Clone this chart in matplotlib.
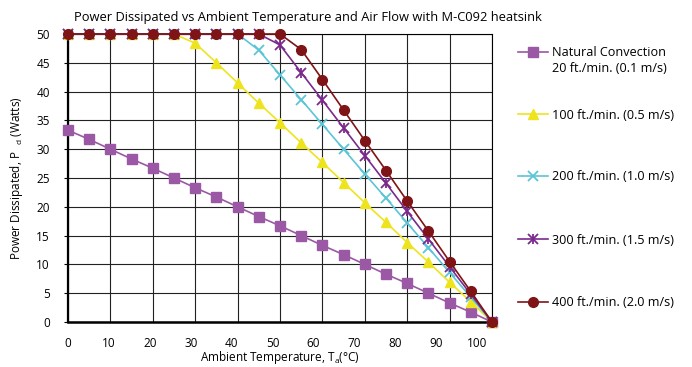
import matplotlib
matplotlib.use("Agg")
import matplotlib.pyplot as plt
from matplotlib.lines import Line2D

plt.rcParams['font.family'] = ['Open Sans', 'DejaVu Sans']
plt.rcParams['mathtext.fontset'] = 'custom'
plt.rcParams['mathtext.rm'] = 'Open Sans'
plt.rcParams['mathtext.it'] = 'Open Sans:italic'

# Ambient temperature (°C)
temps = [0, 5, 10, 15, 20, 25, 30, 35, 40, 45, 50,
         55, 60, 65, 70, 75, 80, 85, 90, 95, 100]

# Power dissipated (W) per air flow
p_natural = [33.3, 31.7, 30.0, 28.3, 26.7, 25.0, 23.3, 21.7, 20.0, 18.3, 16.7,
             15.0, 13.3, 11.7, 10.0, 8.3, 6.7, 5.0, 3.3, 1.7, 0.0]
p_100 = [50, 50, 50, 50, 50, 50, 48.4, 45.0, 41.5, 38.0, 34.6,
         31.1, 27.7, 24.2, 20.7, 17.3, 13.8, 10.4, 6.9, 3.5, 0.0]
p_200 = [50, 50, 50, 50, 50, 50, 50, 50, 50, 47.2, 42.9,
         38.6, 34.3, 30.0, 25.7, 21.5, 17.2, 12.9, 8.6, 4.3, 0.0]
p_300 = [50, 50, 50, 50, 50, 50, 50, 50, 50, 50, 48.1,
         43.3, 38.5, 33.7, 28.9, 24.1, 19.2, 14.4, 9.6, 4.8, 0.0]
p_400 = [50, 50, 50, 50, 50, 50, 50, 50, 50, 50, 50,
         47.3, 42.1, 36.8, 31.5, 26.3, 21.0, 15.8, 10.5, 5.3, 0.0]

labels = ["Natural Convection", "100 ft./min. (0.5 m/s)", "200 ft./min. (1.0 m/s)",
          "300 ft./min. (1.5 m/s)", "400 ft./min. (2.0 m/s)"]
label_extra = "20 ft./min. (0.1 m/s)"

x_ticks = [0, 10, 20, 30, 40, 50, 60, 70, 80, 90, 100]
y_ticks = [0, 5, 10, 15, 20, 25, 30, 35, 40, 45, 50]

fig = plt.figure(figsize=(6.92, 3.67), dpi=100)
ax = fig.add_axes([68/692, 1 - 322/367, (492-68)/692, (322-34)/367])

styles = [
    dict(color='#9B58A5', marker='s', markersize=6.5, mec='#9B58A5'),
    dict(color='#EEE41E', marker='^', markersize=7.5, mec='#EEE41E'),
    dict(color='#5BC5D6', marker='x', markersize=7, mew=1.3),
    dict(color='#7A2A8C', marker='x', markersize=7, mew=1.3),
    dict(color='#7E1416', marker='o', markersize=7, mec='#7E1416'),
]
series = [p_natural, p_100, p_200, p_300, p_400]

lines = []
for i, (ys, st) in enumerate(zip(series, styles)):
    ln, = ax.plot(temps, ys, linewidth=1.2, zorder=3 + i, clip_on=False, **st)
    lines.append(ln)
# 300 ft/min uses an asterisk-like marker: add a vertical stroke
ax.plot(temps, p_300, linestyle='none', marker='|', markersize=7, mew=1.3,
        color='#7A2A8C', zorder=6, clip_on=False)

ax.set_xlim(0, 100)
ax.set_ylim(0, 50)
ax.set_xticks(x_ticks)
ax.set_xticklabels([])
ax.tick_params(axis='x', length=0)
# tick labels drift slightly left in the original
ax.xaxis.remove_overlapping_locs = False
ax.set_xticks([v * 0.965 for v in x_ticks], [str(v) for v in x_ticks], minor=True)
ax.tick_params(axis='x', which='minor', length=0, pad=11, labelsize=8.5)
ax.set_yticks(y_ticks)
ax.tick_params(axis='y', length=3, width=0.8, pad=10, labelsize=8.5, direction='out')

ax.grid(True, which='major', color='#222', linewidth=0.8)
ax.set_axisbelow(True)
for name, sp in ax.spines.items():
    sp.set_color('black')
    sp.set_linewidth(0.8)
ax.spines['left'].set_linewidth(1.6)
ax.spines['bottom'].set_linewidth(1.8)

ax.set_xlabel("Ambient Temperature, T$_\\mathrm{a}$(°C)", fontsize=8.5, labelpad=-1)
ax.set_ylabel("Power Dissipated, P$_\\mathrm{\\ \\ \\ d}$ (Watts)", fontsize=8.5, labelpad=8)

fig.text(308/692, 1 - 17/367, "Power Dissipated vs Ambient Temperature and Air Flow with M-C092 heatsink",
         ha='center', va='center', fontsize=9.3)

# legend, one entry at a time to match spacing
leg_y = [53, 115, 177, 240, 303]
for ln, lab, yy in zip(lines, labels, leg_y):
    handles = [ln]
    if ln is lines[3]:
        handles = [(ln, Line2D([], [], linestyle='none', marker='|', markersize=7,
                               mew=1.3, color='#7A2A8C'))]
    fig.legend(handles, [lab], loc='center left', bbox_to_anchor=(518/692, 1 - yy/367),
               frameon=False, fontsize=9.1, handlelength=2.4, handletextpad=0.3,
               borderpad=0, borderaxespad=0, numpoints=1)
fig.text(552/692, 1 - 69/367, label_extra, ha='left', va='center', fontsize=9.1)

fig.savefig("out.png", dpi=100)
